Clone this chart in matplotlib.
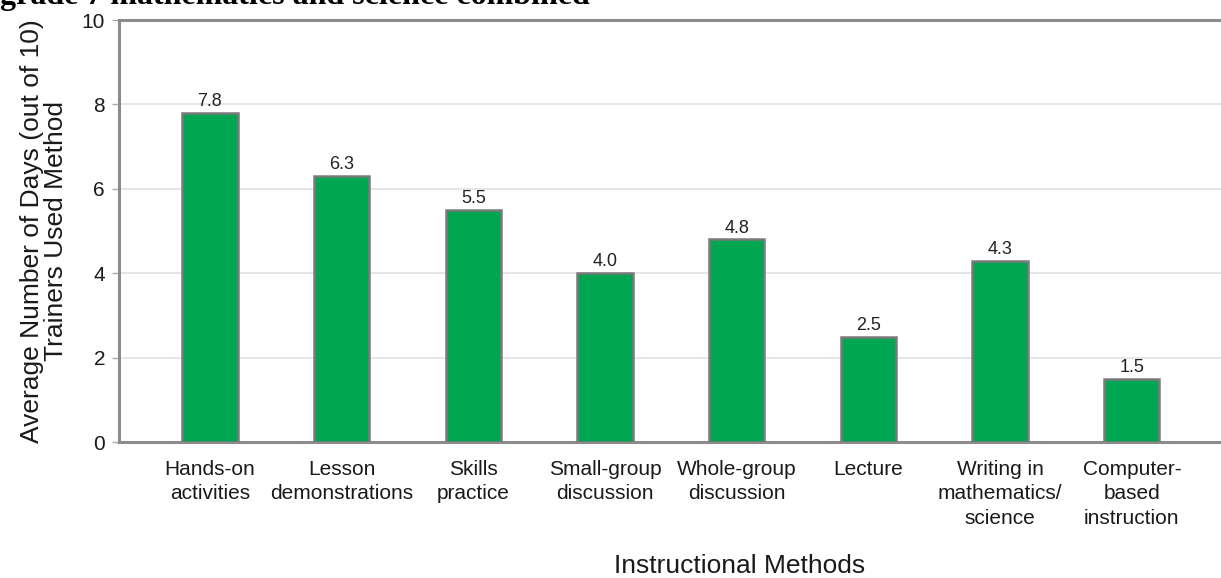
import matplotlib
matplotlib.use("Agg")
import matplotlib.pyplot as plt
import numpy as np

categories = ["Hands-on\nactivities", "Lesson\ndemonstrations", "Skills\npractice",
              "Small-group\ndiscussion", "Whole-group\ndiscussion", "Lecture",
              "Writing in\nmathematics/\nscience", "Computer-\nbased\ninstruction"]
values = [7.8, 6.3, 5.5, 4.0, 4.8, 2.5, 4.3, 1.5]
value_labels = ["7.8", "6.3", "5.5", "4.0", "4.8", "2.5", "4.3", "1.5"]
yticks = [0, 2, 4, 6, 8, 10]
title_text = "grade 7 mathematics and science combined"
xlabel_text = "Instructional Methods"
ylabel_text = "Average Number of Days (out of 10)\nTrainers Used Method"

plt.rcParams['font.family'] = ['Liberation Sans', 'DejaVu Sans']

W, H = 1221, 578
fig = plt.figure(figsize=(W / 100, H / 100), dpi=100)
ax = fig.add_axes([119 / W, (H - 442) / H, (W - 119) / W, 422 / H])

x = np.arange(len(categories))
ax.bar(x, values, width=0.42, color="#00A651", edgecolor="#7a7a7a", linewidth=1.8, zorder=3)
for xi, v, lab in zip(x, values, value_labels):
    ax.annotate(lab, (xi, v), xytext=(0, 2), textcoords="offset points",
                ha="center", va="bottom", fontsize=13, color="#222222")

ax.set_xlim(-0.69, 7.677)
ax.set_ylim(0, 10)
ax.set_yticks(yticks)
ax.set_yticklabels([str(t) for t in yticks])
ax.set_xticks(x)
ax.set_xticklabels(categories, fontsize=15, linespacing=1.35, color="#1a1a1a")
ax.tick_params(axis="x", length=0, pad=13)
ax.tick_params(axis="y", length=5, width=1, color="#aaaaaa", labelsize=15, pad=5, labelcolor="#1a1a1a")

ax.grid(axis="y", color="#e2e2e2", linewidth=1.2, zorder=0)
ax.set_axisbelow(True)
for side in ["left", "top", "bottom"]:
    ax.spines[side].set_color("#8c8c8c")
    ax.spines[side].set_linewidth(2.2)
ax.spines["right"].set_visible(False)

ax.set_xlabel(xlabel_text, fontsize=19, color="#1a1a1a")
ax.xaxis.label.set_va("baseline")
ax.xaxis.set_label_coords((740 - 119) / 1102, (442 - 573) / 422)
ax.set_ylabel(ylabel_text, fontsize=19, color="#1a1a1a", linespacing=1.05)
ax.yaxis.label.set_va("center")
ax.yaxis.set_label_coords((44 - 119) / 1102, 0.5)

fig.text(0.0, 1 - 4 / H, title_text, ha="left", va="baseline",
         fontfamily="Liberation Serif", fontweight="bold", fontsize=23)

fig.savefig("out.png", dpi=100)
